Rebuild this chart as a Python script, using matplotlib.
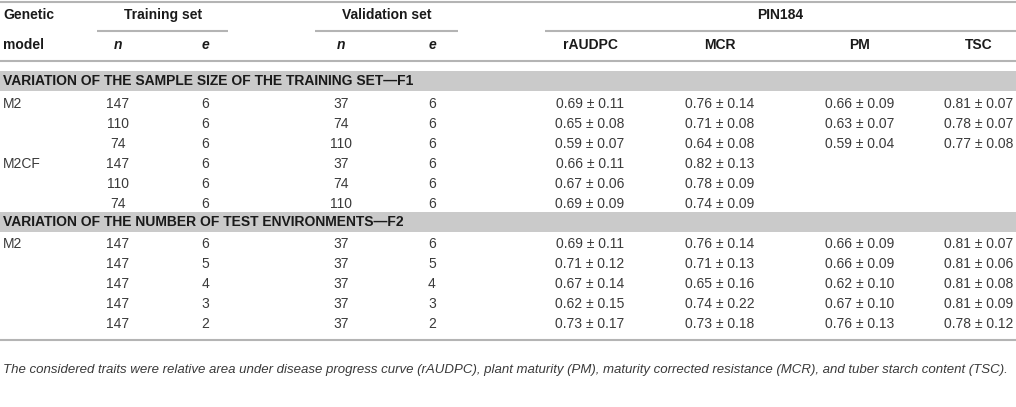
import matplotlib
matplotlib.use("Agg")
import matplotlib.pyplot as plt

plt.rcParams['font.family'] = ['Liberation Sans', 'DejaVu Sans']

# table content
sections = ["VARIATION OF THE SAMPLE SIZE OF THE TRAINING SET\u2014F1",
            "VARIATION OF THE NUMBER OF TEST ENVIRONMENTS\u2014F2"]
model_f1 = ["M2", "", "", "M2CF", "", ""]
train_n_f1 = [147, 110, 74, 147, 110, 74]
train_e_f1 = [6, 6, 6, 6, 6, 6]
valid_n_f1 = [37, 74, 110, 37, 74, 110]
valid_e_f1 = [6, 6, 6, 6, 6, 6]
raudpc_f1 = ["0.69 \u00b1 0.11", "0.65 \u00b1 0.08", "0.59 \u00b1 0.07",
             "0.66 \u00b1 0.11", "0.67 \u00b1 0.06", "0.69 \u00b1 0.09"]
mcr_f1 = ["0.76 \u00b1 0.14", "0.71 \u00b1 0.08", "0.64 \u00b1 0.08",
          "0.82 \u00b1 0.13", "0.78 \u00b1 0.09", "0.74 \u00b1 0.09"]
pm_f1 = ["0.66 \u00b1 0.09", "0.63 \u00b1 0.07", "0.59 \u00b1 0.04", "", "", ""]
tsc_f1 = ["0.81 \u00b1 0.07", "0.78 \u00b1 0.07", "0.77 \u00b1 0.08", "", "", ""]

model_f2 = ["M2", "", "", "", ""]
train_n_f2 = [147, 147, 147, 147, 147]
train_e_f2 = [6, 5, 4, 3, 2]
valid_n_f2 = [37, 37, 37, 37, 37]
valid_e_f2 = [6, 5, 4, 3, 2]
raudpc_f2 = ["0.69 \u00b1 0.11", "0.71 \u00b1 0.12", "0.67 \u00b1 0.14",
             "0.62 \u00b1 0.15", "0.73 \u00b1 0.17"]
mcr_f2 = ["0.76 \u00b1 0.14", "0.71 \u00b1 0.13", "0.65 \u00b1 0.16",
          "0.74 \u00b1 0.22", "0.73 \u00b1 0.18"]
pm_f2 = ["0.66 \u00b1 0.09", "0.66 \u00b1 0.09", "0.62 \u00b1 0.10",
         "0.67 \u00b1 0.10", "0.76 \u00b1 0.13"]
tsc_f2 = ["0.81 \u00b1 0.07", "0.81 \u00b1 0.06", "0.81 \u00b1 0.08",
          "0.81 \u00b1 0.09", "0.78 \u00b1 0.12"]

traits = ["rAUDPC", "MCR", "PM", "TSC"]
footnote = ("The considered traits were relative area under disease progress curve (rAUDPC), "
            "plant maturity (PM), maturity corrected resistance (MCR), and tuber starch content (TSC).")

# layout (pixel coordinates, y downwards)
W, H = 1016, 407
col_x = [3, 118, 205, 341, 432, 590, 720, 860, 979]
head_c = '#1a1a1a'
body_c = '#3a3a3a'
line_c = '#b4b4b4'
bar_c = '#cacaca'
fs = 10

fig = plt.figure(figsize=(W / 100, H / 100), dpi=100)
ax = fig.add_axes([0, 0, 1, 1])
ax.set_xlim(0, W)
ax.set_ylim(H, 0)
ax.axis('off')


def hline(y, x0=0, x1=W):
    ax.plot([x0, x1], [y, y], color=line_c, lw=1.5, solid_capstyle='butt')


hline(2)
hline(61)
hline(340)
hline(31, 97, 228)
hline(31, 315, 458)
hline(31, 545, W)

# header
ax.text(col_x[0], 15, "Genetic", ha='left', va='center', fontsize=fs, fontweight='bold', color=head_c)
ax.text(col_x[0], 45, "model", ha='left', va='center', fontsize=fs, fontweight='bold', color=head_c)
ax.text(163, 15, "Training set", ha='center', va='center', fontsize=fs, fontweight='bold', color=head_c)
ax.text(387, 15, "Validation set", ha='center', va='center', fontsize=fs, fontweight='bold', color=head_c)
ax.text(780, 15, "PIN184", ha='center', va='center', fontsize=fs, fontweight='bold', color=head_c)
for x, lab in zip(col_x[1:5], ["n", "e", "n", "e"]):
    ax.text(x, 45, lab, ha='center', va='center', fontsize=fs, fontweight='bold',
            style='italic', color=head_c)
for x, lab in zip(col_x[5:], traits):
    ax.text(x, 45, lab, ha='center', va='center', fontsize=fs, fontweight='bold', color=head_c)


def section(y, title):
    ax.add_patch(plt.Rectangle((0, y - 10), W, 20, color=bar_c, lw=0))
    ax.text(col_x[0], y, title, ha='left', va='center', fontsize=fs, fontweight='bold', color=head_c)


def rows(y0, cols):
    for i, row in enumerate(zip(*cols)):
        y = y0 + 20 * i
        ax.text(col_x[0], y, row[0], ha='left', va='center', fontsize=fs, color=body_c)
        for x, v in zip(col_x[1:], row[1:]):
            ax.text(x, y, str(v), ha='center', va='center', fontsize=fs, color=body_c)


section(81, sections[0])
rows(104, [model_f1, train_n_f1, train_e_f1, valid_n_f1, valid_e_f1,
           raudpc_f1, mcr_f1, pm_f1, tsc_f1])
section(222, sections[1])
rows(244, [model_f2, train_n_f2, train_e_f2, valid_n_f2, valid_e_f2,
           raudpc_f2, mcr_f2, pm_f2, tsc_f2])

ax.text(col_x[0], 370, footnote, ha='left', va='center', fontsize=9.5,
        style='italic', color=body_c)

fig.savefig("out.png", dpi=100)
